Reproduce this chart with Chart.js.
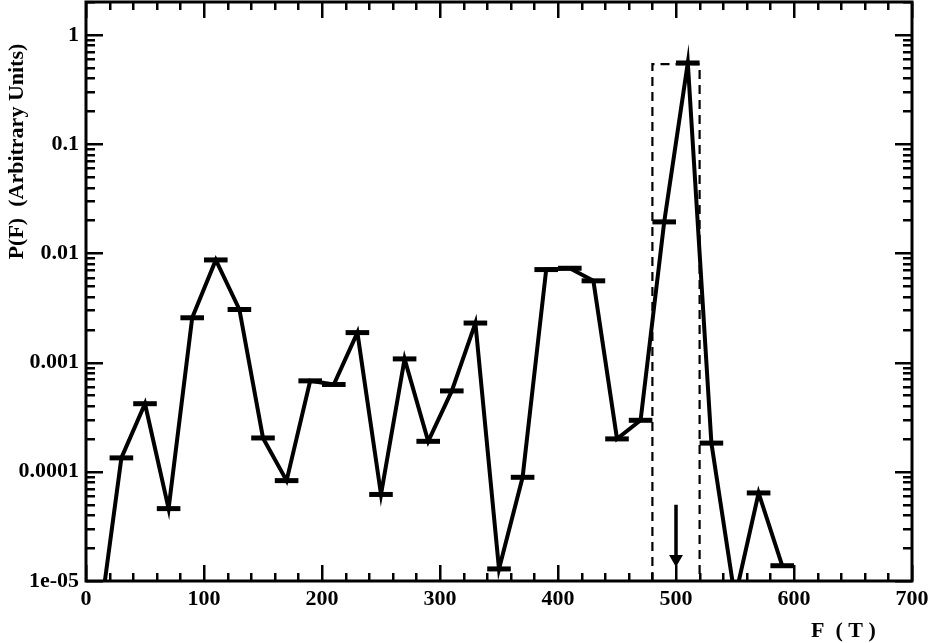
<!DOCTYPE html>
<html>
<head>
<meta charset="utf-8">
<script src="https://cdn.jsdelivr.net/npm/chart.js@4/dist/chart.umd.min.js"></script>
<style>
  html, body { margin: 0; padding: 0; background: #fff; }
  #wrap { width: 932px; height: 643px; }
</style>
</head>
<body>
<div id="wrap"><canvas id="c" width="932" height="643"></canvas></div>
<script>
// ---- data ----
const freq  = [10, 30, 50, 70, 90, 110, 130, 150, 170, 190, 210, 230, 250, 270, 290,
               310, 330, 350, 370, 390, 410, 430, 450, 470, 490, 510, 530, 550, 570, 590];
const power = [3.3e-6, 1.34e-4, 4.2e-4, 4.6e-5, 2.57e-3, 8.7e-3, 3.06e-3, 2.04e-4, 8.3e-5, 6.8e-4,
               6.3e-4, 1.88e-3, 6.2e-5, 1.08e-3, 1.9e-4, 5.5e-4, 2.3e-3, 1.29e-5, 8.9e-5, 7.1e-3,
               7.3e-3, 5.6e-3, 2.0e-4, 2.96e-4, 1.94e-2, 0.553, 1.83e-4, 7e-6, 6.4e-5, 1.38e-5];
const binHalfWidth = 10;                 // each marker spans +-10 T
const windowF   = [480, 520];            // dashed selection window
const windowTop = 0.54;
const arrowF    = 500;                   // arrow marker
const arrowFrom = 5.0e-5;
const arrowTo   = 1.59e-5;
const xTickValues = [0, 100, 200, 300, 400, 500, 600, 700];
const yTickValues = [1e-5, 1e-4, 1e-3, 1e-2, 1e-1, 1];
const yTickLabels = ['1e-05', '0.0001', '0.001', '0.01', '0.1', '1'];
const yMin = 1e-5, yMax = 2;
const xMin = 0, xMax = 700;
const xTitle = 'F  ( T )';
const yTitle = 'P(F)  (Arbitrary Units)';

const FONT = '"Liberation Serif", "Times New Roman", serif';
Chart.defaults.color = '#000';
Chart.defaults.font.family = FONT;

const mainData   = freq.map((f, i) => ({ x: f, y: power[i] }));
const windowData = [
  { x: windowF[0], y: yMin }, { x: windowF[0], y: windowTop },
  { x: windowF[1], y: windowTop }, { x: windowF[1], y: yMin }
];
const arrowData = [{ x: arrowF, y: arrowFrom }, { x: arrowF, y: arrowTo }];

const framePlugin = {
  id: 'frameTicks',
  afterDraw(chart) {
    const ctx = chart.ctx;
    const { left, right, top, bottom } = chart.chartArea;
    const xs = chart.scales.x, ys = chart.scales.y;
    ctx.save();
    ctx.strokeStyle = '#000';
    // x ticks (inward, bottom and top)
    ctx.lineWidth = 2.5;
    ctx.beginPath();
    for (let v = xMin; v <= xMax; v += 20) {
      const px = Math.round(xs.getPixelForValue(v)) + 0.25;
      const len = (v % 100 === 0) ? 16 : 8;
      ctx.moveTo(px, bottom); ctx.lineTo(px, bottom - len);
      ctx.moveTo(px, top);    ctx.lineTo(px, top + len);
    }
    // y ticks (log, inward, left and right)
    for (let e = -5; e <= 0; e++) {
      for (let m = 1; m <= 9; m++) {
        const v = m * Math.pow(10, e);
        if (v > yMax || v < yMin) continue;
        const py = Math.round(ys.getPixelForValue(v)) + 0.25;
        const len = (m === 1) ? 17 : 9;
        ctx.moveTo(left, py);  ctx.lineTo(left + len, py);
        ctx.moveTo(right, py); ctx.lineTo(right - len, py);
      }
    }
    ctx.stroke();
    // frame
    ctx.lineWidth = 3;
    ctx.strokeRect(left, top, right - left, bottom - top);
    // titles
    ctx.fillStyle = '#000';
    ctx.font = 'bold 22px ' + FONT;
    ctx.textAlign = 'left';
    ctx.textBaseline = 'alphabetic';
    ctx.fillText(xTitle, 811, 637);
    ctx.translate(22.5, 151.5);
    ctx.rotate(-Math.PI / 2);
    ctx.textAlign = 'center';
    ctx.fillText(yTitle, 0, 0);
    ctx.restore();
  }
};

function halfBinPx(context) {
  const xs = context.chart.scales.x;
  if (!xs) return 11.8;
  return xs.getPixelForValue(binHalfWidth) - xs.getPixelForValue(0);
}

new Chart(document.getElementById('c'), {
  type: 'scatter',
  data: {
    datasets: [
      {
        label: 'window',
        data: windowData,
        showLine: true,
        borderColor: '#000',
        borderWidth: 2.2,
        borderDash: [9, 6],
        pointRadius: 0,
        fill: false,
        order: 3
      },
      {
        label: 'P(F)',
        data: mainData,
        showLine: true,
        borderColor: '#000',
        borderWidth: 4,
        borderJoinStyle: 'miter',
        pointStyle: 'line',
        pointRadius: halfBinPx,
        pointHoverRadius: halfBinPx,
        pointBorderWidth: 5,
        pointBorderColor: '#000',
        pointBackgroundColor: '#000',
        fill: false,
        order: 1
      },
      {
        label: 'arrow',
        data: arrowData,
        showLine: true,
        borderColor: '#000',
        borderWidth: 3.5,
        pointStyle: 'triangle',
        rotation: 180,
        pointRadius: [0, 8],
        pointBorderWidth: 0,
        pointBackgroundColor: '#000',
        pointBorderColor: '#000',
        order: 2
      }
    ]
  },
  options: {
    responsive: false,
    animation: false,
    devicePixelRatio: 1,
    events: [],
    layout: { autoPadding: false, padding: { top: 2, right: 20, left: 0, bottom: 0 } },
    plugins: { legend: { display: false }, tooltip: { enabled: false } },
    scales: {
      x: {
        type: 'linear',
        min: xMin, max: xMax,
        grid: { display: false, drawTicks: false },
        border: { display: false },
        afterBuildTicks(scale) { scale.ticks = xTickValues.map(v => ({ value: v })); },
        ticks: {
          padding: 5,
          maxRotation: 0,
          autoSkip: false,
          color: '#000',
          font: { size: 22, weight: 'bold', family: FONT },
          callback: (v) => String(v)
        },
        afterFit(scale) {
          scale.height = 62;
          scale.paddingLeft = 0; scale.paddingRight = 0;
        }
      },
      y: {
        type: 'logarithmic',
        min: yMin, max: yMax,
        grid: { display: false, drawTicks: false },
        border: { display: false },
        afterBuildTicks(scale) { scale.ticks = yTickValues.map(v => ({ value: v })); },
        ticks: {
          padding: 7,
          autoSkip: false,
          color: '#000',
          font: { size: 22, weight: 'bold', family: FONT },
          callback: (v, i) => yTickLabels[i]
        },
        afterFit(scale) {
          scale.width = 86;
          scale.paddingTop = 0; scale.paddingBottom = 0;
        }
      }
    }
  },
  plugins: [framePlugin]
});
</script>
</body>
</html>
